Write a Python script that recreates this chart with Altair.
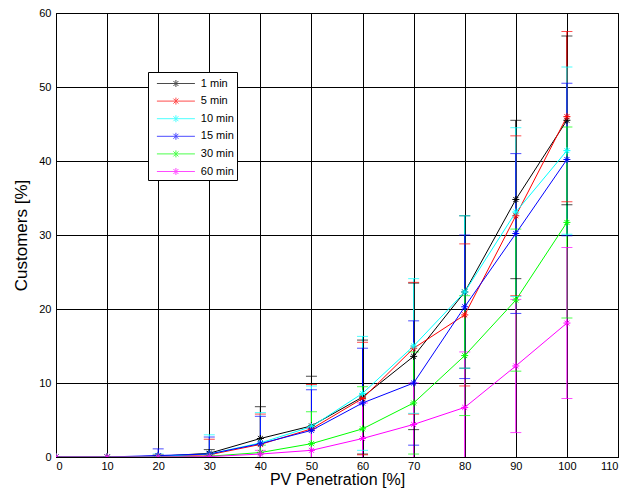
import altair as alt
import pandas as pd

pv = [0, 10, 20, 30, 40, 50, 60, 70, 80, 90, 100]
series = ["1 min", "5 min", "10 min", "15 min", "30 min", "60 min"]
colors = ["#000000", "#ff0000", "#00ffff", "#0000ff", "#00ff00", "#ff00ff"]

mean_1 = [0, 0, 0.1, 0.5, 2.5, 4.2, 8.1, 13.6, 22.3, 34.8, 45.5]
err_1 = [0, 0, 0.1, 0.5, 4.3, 6.7, 7.7, 9.9, 10.3, 10.7, 11.4]
mean_5 = [0, 0, 0.1, 0.3, 1.7, 3.8, 7.9, 14.7, 19.2, 32.6, 46.0]
err_5 = [0, 0, 0.2, 2.1, 4.1, 6.0, 7.6, 8.9, 9.6, 10.8, 11.5]
mean_10 = [0, 0, 0.1, 0.4, 1.9, 4.1, 8.6, 15.0, 22.3, 33.1, 41.4]
err_10 = [0, 0, 0.3, 2.6, 4.1, 5.5, 7.7, 9.1, 10.3, 11.4, 11.3]
mean_15 = [0, 0, 0.2, 0.4, 1.8, 3.6, 7.3, 10.0, 20.3, 30.2, 40.2]
err_15 = [0, 0, 0.9, 2.3, 3.7, 5.5, 7.4, 8.4, 9.7, 10.8, 10.3]
mean_30 = [0, 0, 0, 0.1, 0.6, 1.8, 3.8, 7.3, 13.7, 21.2, 31.7]
err_30 = [0, 0, 0, 0.3, 1.0, 4.3, 5.7, 6.9, 8.1, 9.6, 12.9]
mean_60 = [0, 0, 0, 0.05, 0.4, 0.9, 2.5, 4.4, 6.7, 12.3, 18.1]
err_60 = [0, 0, 0, 0.1, 0.5, 3.0, 4.8, 5.6, 7.5, 9.0, 10.2]

means = [mean_1, mean_5, mean_10, mean_15, mean_30, mean_60]
errs = [err_1, err_5, err_10, err_15, err_30, err_60]

rows = []
for si, (s, m, e) in enumerate(zip(series, means, errs)):
    for x, mv, ev in zip(pv, m, e):
        rows.append({"series": s, "idx": si, "pv": x, "mean": mv,
                     "lo": mv - ev, "hi": mv + ev})
df = pd.DataFrame(rows)

star = "M-1,0L1,0M0,-1L0,1M-0.7,-0.7L0.7,0.7M-0.7,0.7L0.7,-0.7"
legend_sym = ("M-0.34,0L4.66,0M2.16,-0.46L2.16,0.46"
              "M1.83,-0.33L2.49,0.33M1.83,0.33L2.49,-0.33")

xscale = alt.Scale(domain=[0, 110], nice=False)
yscale = alt.Scale(domain=[0, 60], nice=False)
cscale = alt.Scale(domain=series, range=colors)

xaxis = alt.Axis(values=list(range(0, 111, 10)), title="PV Penetration [%]")
yaxis = alt.Axis(values=list(range(0, 61, 10)), title="Customers [%]")

legend = alt.Legend(
    title=None, orient="none", legendX=92, legendY=59,
    symbolType=legend_sym, symbolSize=231, symbolStrokeWidth=1,
    symbolFillColor="transparent",
    labelOffset=32.8, rowPadding=3.6, padding=3,
    strokeColor="black", fillColor="white",
    labelFont="Liberation Sans", labelFontSize=11, labelColor="black",
)

color = alt.Color("series:N", scale=cscale, legend=legend, sort=series)

base = alt.Chart(df)

rules = base.mark_rule(strokeWidth=1, clip=True).encode(
    x=alt.X("pv:Q", scale=xscale, axis=xaxis),
    y=alt.Y("lo:Q", scale=yscale, axis=yaxis),
    y2="hi:Q",
    color=color,
    order="idx:Q",
)
cap_lo = base.mark_tick(orient="horizontal", size=11, thickness=1, clip=True).encode(
    x=alt.X("pv:Q", scale=xscale),
    y=alt.Y("lo:Q", scale=yscale),
    color=color,
)
cap_hi = base.mark_tick(orient="horizontal", size=11, thickness=1, clip=True).encode(
    x=alt.X("pv:Q", scale=xscale),
    y=alt.Y("hi:Q", scale=yscale),
    color=color,
)
lines = base.mark_line(strokeWidth=1, clip=True).encode(
    x=alt.X("pv:Q", scale=xscale),
    y=alt.Y("mean:Q", scale=yscale),
    color=color,
    detail="series:N",
)
points = base.mark_point(shape=star, size=49, strokeWidth=1, filled=False,
                         opacity=1, clip=True).encode(
    x=alt.X("pv:Q", scale=xscale),
    y=alt.Y("mean:Q", scale=yscale),
    color=color,
)

chart = alt.layer(rules, cap_lo, cap_hi, lines, points).properties(
    width=562, height=444,
    autosize=alt.AutoSizeParams(type="none"),
    padding={"left": 48, "top": 5, "right": 1, "bottom": 32},
).configure_view(
    stroke="black", strokeWidth=1
).configure_axis(
    grid=True, gridColor="black", gridOpacity=1, gridWidth=1,
    domainColor="black", domainWidth=1, ticks=False,
    labelFont="Liberation Sans", labelFontSize=11, labelColor="black",
    titleFont="Liberation Sans", titleFontSize=17, titleFontWeight="normal",
    titleColor="black",
).configure_axisX(
    labelPadding=3, titlePadding=0, titleFontSize=16,
).configure_axisY(
    labelPadding=5, titlePadding=8,
)

chart.save("out.html", embed_options={"renderer": "svg", "actions": False})
